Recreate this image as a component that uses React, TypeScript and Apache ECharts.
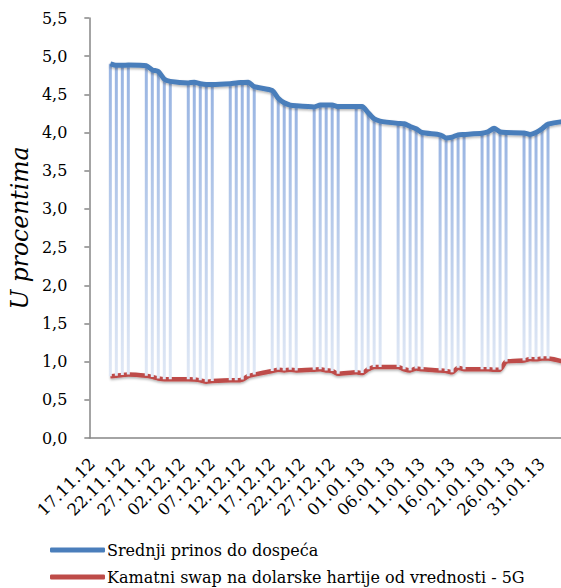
import React, { useEffect, useRef } from "react";
import * as echarts from "echarts";

const categories: string[] = [
  "17.11.12","18.11.12","19.11.12","20.11.12","21.11.12","22.11.12","23.11.12","24.11.12","25.11.12","26.11.12",
  "27.11.12","28.11.12","29.11.12","30.11.12","01.12.12","02.12.12","03.12.12","04.12.12","05.12.12","06.12.12",
  "07.12.12","08.12.12","09.12.12","10.12.12","11.12.12","12.12.12","13.12.12","14.12.12","15.12.12","16.12.12",
  "17.12.12","18.12.12","19.12.12","20.12.12","21.12.12","22.12.12","23.12.12","24.12.12","25.12.12","26.12.12",
  "27.12.12","28.12.12","29.12.12","30.12.12","31.12.12","01.01.13","02.01.13","03.01.13","04.01.13","05.01.13",
  "06.01.13","07.01.13","08.01.13","09.01.13","10.01.13","11.01.13","12.01.13","13.01.13","14.01.13","15.01.13",
  "16.01.13","17.01.13","18.01.13","19.01.13","20.01.13","21.01.13","22.01.13","23.01.13","24.01.13","25.01.13",
  "26.01.13","27.01.13","28.01.13","29.01.13","30.01.13","31.01.13","01.02.13","02.02.13","03.02.13","04.02.13",
];

const N = null;
// Srednji prinos do dospeća (business days only)
const yieldValues: (number | null)[] = [
  N, N, N, 4.90, 4.88, 4.88, 4.885, N, N, 4.875,
  4.82, 4.80, 4.70, 4.67, N, N, 4.65, 4.66, 4.64, 4.63,
  4.63, N, N, 4.64, 4.65, 4.655, 4.66, 4.60, N, N,
  4.55, 4.45, 4.39, 4.36, 4.35, N, N, 4.335, 4.36, 4.36,
  4.36, 4.34, N, N, 4.34, 4.34, 4.26, 4.18, 4.15, N,
  N, 4.12, 4.115, 4.08, 4.05, 4.00, N, N, 3.97, 3.93,
  3.94, 3.97, 3.975, N, N, 3.99, 4.01, 4.055, 4.01, 4.00,
  N, N, 3.995, 3.975, 4.00, 4.05, 4.11, N, N, 4.15,
];
// Kamatni swap na dolarske hartije od vrednosti - 5G
const swapValues: (number | null)[] = [
  N, N, N, 0.807, 0.816, 0.825, 0.83, N, N, 0.815,
  0.80, 0.78, 0.77, 0.77, N, N, 0.77, 0.765, 0.755, 0.737,
  0.745, N, N, 0.755, 0.755, 0.765, 0.81, 0.83, N, N,
  0.877, 0.895, 0.885, 0.895, 0.885, N, N, 0.895, 0.90, 0.885,
  0.877, 0.84, N, N, 0.86, 0.85, 0.90, 0.93, 0.93, N,
  N, 0.93, 0.90, 0.885, 0.91, 0.90, N, N, 0.885, 0.877,
  0.86, 0.92, 0.90, N, N, 0.90, 0.90, 0.895, 0.895, 1.00,
  N, N, 1.015, 1.035, 1.03, 1.04, 1.04, N, N, 0.99,
];

const yTicks = [0, 0.5, 1, 1.5, 2, 2.5, 3, 3.5, 4, 4.5, 5, 5.5];

const SERIES_A = "Srednji prinos do dospeća";
const SERIES_B = "Kamatni swap na dolarske hartije od vrednosti - 5G";

export default function App() {
  const ref = useRef<HTMLDivElement>(null);
  useEffect(() => {
    if (!ref.current) return;
    const chart = echarts.init(ref.current, undefined, { renderer: "svg" });
    const hiLo: number[][] = [];
    yieldValues.forEach((v, i) => {
      const s = swapValues[i];
      if (v != null && s != null) hiLo.push([i, v, s]);
    });
    const font = "DejaVu Serif";
    const axisColor = "#868686";
    const legendBase = {
      left: 45,
      icon: "roundRect",
      itemWidth: 55,
      itemHeight: 5,
      textStyle: { fontFamily: font, fontSize: 16, color: "#000", lineHeight: 20, padding: [0, 0, 0, -3] },
    };
    chart.setOption({
      animation: false,
      textStyle: { fontFamily: font, color: "#000" },
      grid: { left: 89, top: 18, right: 6, bottom: 150 },
      legend: [
        { ...legendBase, data: [SERIES_A], top: 535 },
        { ...legendBase, data: [SERIES_B], top: 562 },
      ],
      xAxis: {
        type: "category",
        data: categories,
        boundaryGap: true,
        axisLine: { lineStyle: { color: axisColor, width: 1.5 } },
        axisTick: { interval: 4, length: 6, lineStyle: { color: axisColor, width: 1.5 } },
        axisLabel: {
          interval: 4,
          rotate: 45,
          margin: 23,
          fontFamily: font,
          fontSize: 16.5,
          color: "#000",
        },
      },
      yAxis: {
        type: "value",
        min: yTicks[0],
        max: yTicks[yTicks.length - 1],
        interval: 0.5,
        name: "U procentima",
        nameLocation: "middle",
        nameRotate: 90,
        nameGap: 55,
        nameTextStyle: { fontFamily: font, fontSize: 23.5, fontStyle: "italic", color: "#000" },
        axisLine: { show: true, lineStyle: { color: axisColor, width: 1.5 } },
        axisTick: { show: true, length: 5, lineStyle: { color: axisColor, width: 1.5 } },
        splitLine: { show: false },
        axisLabel: {
          margin: 22,
          fontFamily: font,
          fontSize: 16,
          color: "#000",
          formatter: (v: number) => v.toFixed(1).replace(".", ","),
        },
      },
      series: [
        {
          name: SERIES_B,
          type: "line",
          data: swapValues,
          connectNulls: true,
          showSymbol: false,
          smooth: 0.2,
          z: 2,
          itemStyle: { color: "#be4b48" },
          lineStyle: {
            color: "#be4b48",
            width: 4.5,
            shadowColor: "rgba(0,0,0,0.3)",
            shadowBlur: 2,
            shadowOffsetY: 1.5,
          },
        },
        {
          name: "hilo",
          type: "custom",
          data: hiLo,
          z: 3,
          encode: { x: 0, y: [1, 2] },
          renderItem: (params: any, api: any) => {
            const i = api.value(0);
            const p1 = api.coord([i, api.value(1)]);
            const p2 = api.coord([i, api.value(2)]);
            return {
              type: "rect",
              shape: { x: p1[0] - 1.5, y: p1[1], width: 3, height: p2[1] - p1[1] },
              style: {
                fill: new echarts.graphic.LinearGradient(0, 0, 0, 1, [
                  { offset: 0, color: "#98b4e2" },
                  { offset: 1, color: "#e0e8f5" },
                ]),
              },
            };
          },
        },
        {
          name: SERIES_A,
          type: "line",
          data: yieldValues,
          connectNulls: true,
          showSymbol: false,
          smooth: 0.2,
          z: 4,
          itemStyle: { color: "#4a7ebb" },
          lineStyle: {
            color: "#4a7ebb",
            width: 5,
            shadowColor: "rgba(0,0,0,0.3)",
            shadowBlur: 2,
            shadowOffsetY: 1.5,
          },
        },
      ],
    });
    return () => chart.dispose();
  }, []);
  return (
    <div style={{ position: "absolute", left: 0, top: 0, width: 561, height: 588, overflow: "hidden", background: "#fff" }}>
      <div ref={ref} style={{ width: 575, height: 588 }} />
    </div>
  );
}
